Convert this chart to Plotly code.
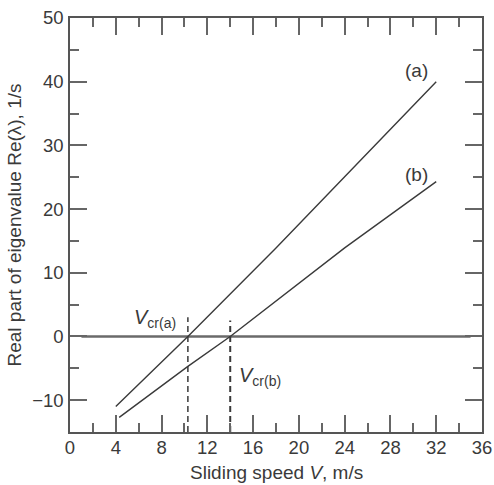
import plotly.graph_objects as go

# Data
a_x = [4, 10.3, 18, 32]
a_y = [-11, 0, 13.9, 40]
b_x = [4.3, 10.3, 14, 24, 32]
b_y = [-12.7, -4.7, 0, 13.9, 24.3]
zero_x = [1, 35]
zero_y = [0, 0]
vcr_a = 10.3
vcr_b = 14.0
vcr_a_top = 3.0
vcr_b_top = 2.5
y_bottom = -15

FONT = "Liberation Sans, Arial, sans-serif"
TXT = "#3a3a3a"
LINE = "#3a3a3a"

fig = go.Figure()
fig.add_trace(go.Scatter(x=zero_x, y=zero_y, mode="lines",
                         line=dict(color="#6a6a6a", width=2.5), showlegend=False))
fig.add_trace(go.Scatter(x=a_x, y=a_y, mode="lines",
                         line=dict(color=LINE, width=1.4), showlegend=False))
fig.add_trace(go.Scatter(x=b_x, y=b_y, mode="lines",
                         line=dict(color=LINE, width=1.4), showlegend=False))
fig.add_trace(go.Scatter(x=[vcr_a, vcr_a], y=[y_bottom, vcr_a_top], mode="lines",
                         line=dict(color=LINE, width=1.5, dash="6px,4px"), showlegend=False))
fig.add_trace(go.Scatter(x=[vcr_b, vcr_b], y=[y_bottom, vcr_b_top], mode="lines",
                         line=dict(color=LINE, width=2, dash="6px,4px"), showlegend=False))

ann_font = dict(family=FONT, size=19, color=TXT)
fig.add_annotation(x=30.3, y=41.8, text="(a)", showarrow=False, font=ann_font)
fig.add_annotation(x=30.3, y=25.4, text="(b)", showarrow=False, font=ann_font)
fig.add_annotation(x=7.4, y=2.8, text="<i>V</i><sub>cr(a)</sub>", showarrow=False,
                   font=dict(family=FONT, size=20, color=TXT))
fig.add_annotation(x=16.6, y=-6.3, text="<i>V</i><sub>cr(b)</sub>", showarrow=False,
                   font=dict(family=FONT, size=20, color=TXT))
# x-axis title, placed low near the window edge as in the reference, but fully visible
fig.add_annotation(x=0.5, xref="paper", y=0, yref="paper", yanchor="top", yshift=-28,
                   text="Sliding speed <i>V</i>, m/s", showarrow=False,
                   font=dict(family=FONT, size=19, color=TXT))

axis_common = dict(
    showgrid=False, zeroline=False, showline=True, linecolor="#555", linewidth=1.5,
    mirror="ticks", ticks="inside", ticklen=17, tickwidth=1.5, tickcolor="#666",
    tickfont=dict(family=FONT, size=18.5, color=TXT), ticklabeloverflow="allow",
)

fig.update_xaxes(range=[0, 36], dtick=4, tick0=0,
                 minor=dict(ticks="inside", ticklen=9, dtick=2, tickwidth=1.5, tickcolor="#666"),
                 ticklabelstandoff=-2,
                 **axis_common)
fig.update_yaxes(range=[-15, 50], dtick=10, tick0=0,
                 minor=dict(ticks="inside", ticklen=9, dtick=5, tickwidth=1.5, tickcolor="#666"),
                 title=dict(text="Real part of eigenvalue Re(λ), 1/s",
                            font=dict(family=FONT, size=19, color=TXT), standoff=6),
                 ticklabelstandoff=1,
                 **axis_common)

fig.update_layout(width=494, height=485, margin=dict(l=70, r=12, t=18, b=53, autoexpand=False),
                  plot_bgcolor="white", paper_bgcolor="white")

# remove the default 8px page margin so the figure fills the window exactly
fig.write_html("out.html", config={"displayModeBar": False},
               post_script="document.body.style.margin='0px';")
